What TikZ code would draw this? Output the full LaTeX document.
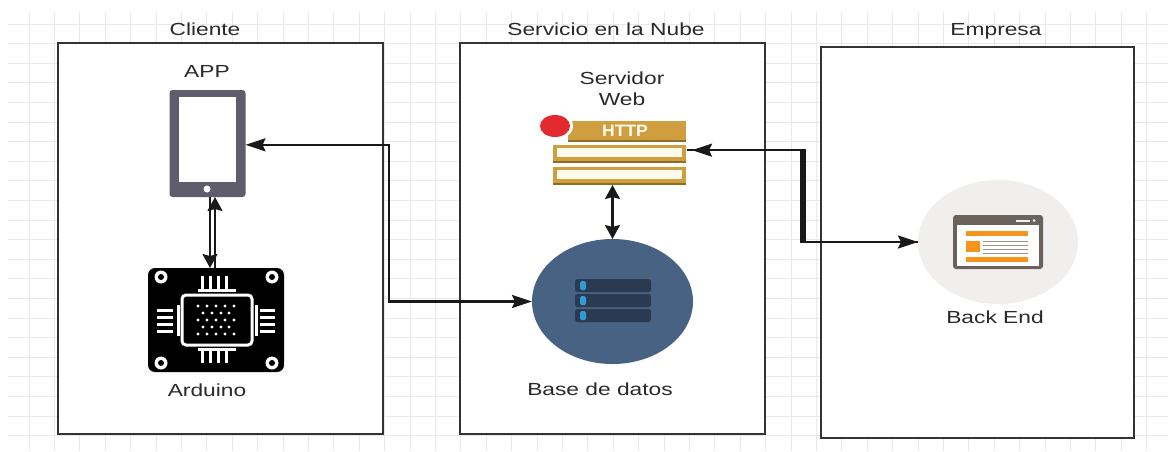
\documentclass[tikz,border=0pt]{standalone}
\usepackage{fontspec}
\setmainfont{Liberation Sans}[FakeStretch=1.3]
\newfontfamily\httpfont{Liberation Sans}[FakeStretch=1.06]
\usetikzlibrary{arrows.meta,shapes.geometric}
\definecolor{rejilla}{HTML}{E9E9E9}
\definecolor{borde}{HTML}{333333}
\definecolor{letra}{HTML}{2A2A2A}
\definecolor{telefono}{HTML}{5F5D6B}
\definecolor{oro}{HTML}{CF9F3F}
\definecolor{oroscuro}{HTML}{8F6C28}
\definecolor{crema}{HTML}{FFFBEC}
\definecolor{rojo}{HTML}{E32A2E}
\definecolor{azulbase}{HTML}{486284}
\definecolor{filabase}{HTML}{2B3A50}
\definecolor{ledbase}{HTML}{2F9AD6}
\definecolor{fondoback}{HTML}{F1EFED}
\definecolor{ventana}{HTML}{6B635B}
\definecolor{naranja}{HTML}{F7941E}
\definecolor{lineagris}{HTML}{9A948C}
\begin{document}
\begin{tikzpicture}[x=1pt,y=-1pt]

    % Estilos
    \tikzstyle{caja} = [rectangle, draw=borde, line width=2.2pt, fill=white, inner sep=0pt, outer sep=0pt]
    \tikzstyle{titulo} = [text=letra, font=\fontsize{17.5}{20}\selectfont, align=center, inner sep=0pt]
    \tikzstyle{rotulo} = [titulo, anchor=base]
    \tikzstyle{icono} = [rectangle, inner sep=0pt, outer sep=0pt]
    \tikzstyle{disco} = [ellipse, inner sep=0pt, outer sep=0pt]
    \tikzstyle{arrow} = [line width=2.2pt, draw=black!90, <->, >={Stealth[length=20pt,width=13pt,inset=3pt]}]
    \tikzstyle{arrowv} = [line width=2.2pt, draw=black!90, <->, >={Stealth[length=14pt,width=15pt,inset=2pt]}]
    \tikzstyle{blanco} = [draw=white, line width=3pt]

    \useasboundingbox (0,0) rectangle (1173,451);
    \fill[white] (0,0) rectangle (1173,451);

    % Rejilla
    \foreach \col in {0,...,44} \draw[rejilla, line width=1pt] (29+25.4*\col,12) -- (29+25.4*\col,451);
    \foreach \fila in {0,...,21} \draw[rejilla, line width=1pt] (8,24+19.6*\fila) -- (1168,24+19.6*\fila);

    % Cajas
    \node (cliente) [caja, minimum width=325pt, minimum height=391pt] at (220.5,238.5) {};
    \node (nube) [caja, minimum width=305pt, minimum height=391pt] at (612.5,238.5) {};
    \node (empresa) [caja, minimum width=313pt, minimum height=391pt] at (977.5,242.5) {};
    \node (cliente-tit) [rotulo] at (205,35) {Cliente};
    \node (nube-tit) [rotulo] at (606,35) {Servicio en la Nube};
    \node (empresa-tit) [rotulo] at (996,35) {Empresa};

    % Nodos
    \node (phone) [icono, fill=telefono, rounded corners=3pt, minimum width=76pt, minimum height=107pt] at (207.5,143.5) {};
    \node (arduino) [icono, fill=black, rounded corners=7pt, minimum width=136pt, minimum height=104pt] at (216,320) {};
    \node (server) [icono, minimum width=134pt, minimum height=65pt] at (620,152.5) {};
    \node (db) [disco, fill=azulbase, minimum width=161pt, minimum height=125pt] at (612.5,301.5) {};
    \node (backend) [disco, fill=fondoback, minimum width=160pt, minimum height=124pt] at (998,242) {};

    % Textos
    \node (app-tit) [rotulo] at (207,77) {APP};
    \node (arduino-tit) [rotulo] at (207,396) {Arduino};
    \node (server-tit) [titulo] at (622,88.5) {Servidor\\[1pt]Web};
    \node (db-tit) [rotulo] at (600,395) {Base de datos};
    \node (backend-tit) [rotulo] at (995,323) {Back End};

    % Telefono
    \fill[white] (179,97) rectangle (236,182);
    \fill[white] (207,189) circle (3.5);

    % Arduino
    \foreach \hx in {161,272} \foreach \hy in {277,363} {
        \fill[white] (\hx,\hy) circle (6.5);
        \fill[black] (\hx,\hy) circle (3);
    }
    \draw[blanco, rounded corners=4pt] (182,295) rectangle (252,345);
    \foreach \px in {202,210,218,226} {
        \draw[blanco] (\px,276) -- (\px,289);
        \draw[blanco] (\px,351) -- (\px,363);
    }
    \foreach \py in {310,317,324,331} {
        \draw[blanco] (157,\py) -- (173,\py);
        \draw[blanco] (260,\py) -- (275,\py);
    }
    \draw[blanco] (198,290) -- (236,290) (198,349) -- (236,349) (178,305) -- (178,336) (256,305) -- (256,336);
    \foreach \py in {306,320,334} \foreach \px in {198,207,216,225,234} \fill[white] (\px,\py) circle (1.6);
    \foreach \py in {313,327} \foreach \px in {203,212,221,229} \fill[white] (\px,\py) circle (1.6);

    % Servidor
    \fill[oro] (568,121) rectangle (686,140);
    \fill[oroscuro] (568,140) rectangle (686,142);
    \fill[white] (555,126) ellipse (18 and 14);
    \fill[rojo] (555,126) ellipse (15 and 11);
    \node (http) [icono, text=crema, font=\httpfont\bfseries\fontsize{16.5}{18}\selectfont] at (625,131) {HTTP};
    \foreach \fy in {145,167} {
        \fill[oro] (553,\fy) rectangle (686,\fy+16);
        \fill[oroscuro] (553,\fy+16) rectangle (686,\fy+18);
        \fill[crema] (557,\fy+3) rectangle (682,\fy+12);
    }

    % Base de datos
    \foreach \fy in {279,294,309} {
        \fill[filabase, rounded corners=2.5pt] (575,\fy) rectangle (651,\fy+13);
        \fill[ledbase, rounded corners=1.5pt] (580,\fy+2) rectangle (586,\fy+11);
    }

    % Back End
    \fill[ventana, rounded corners=3pt] (953,215) rectangle (1043,269);
    \fill[white] (957,225) rectangle (1039,266);
    \fill[fondoback] (1016,219.5) rectangle (1030,221.5);
    \fill[fondoback] (1034,220.5) circle (1.5);
    \fill[naranja] (966,231) rectangle (1028,236);
    \fill[naranja] (966,257) rectangle (1028,262);
    \fill[naranja] (966,241) rectangle (980,252);
    \foreach \ly in {241,245,249,253} \draw[lineagris, line width=1pt] (983,\ly) -- (1028,\ly);

    % Coordenadas de los codos
    \coordinate (bajada) at (210,0);
    \coordinate (subida) at (215,0);
    \coordinate (codo-app) at (389,0);
    \coordinate (codo-ida) at (801.5,0);
    \coordinate (codo-vuelta) at (804.5,0);

    % Flechas
    \draw [arrow] (phone.-2) -- (codo-app |- phone.-2) -- (codo-app |- db.west) -- (db.west);
    \draw [arrowv, ->] (bajada |- phone.south) -- (bajada |- arduino.north);
    \draw [arrowv, ->] (subida |- arduino.north) -- (subida |- phone.south);
    \draw [arrowv] (db.north) -- (db.north |- server.south);
    \draw [arrow, ->, shorten >=5pt] (backend.west) -- (codo-vuelta |- backend.west) -- (codo-vuelta |- server.2) -- (server.2);
    \draw [arrow, ->] (server.2) -- (codo-ida |- server.2) -- (codo-ida |- backend.west) -- (backend.west);

    \end{tikzpicture}
\end{document}
